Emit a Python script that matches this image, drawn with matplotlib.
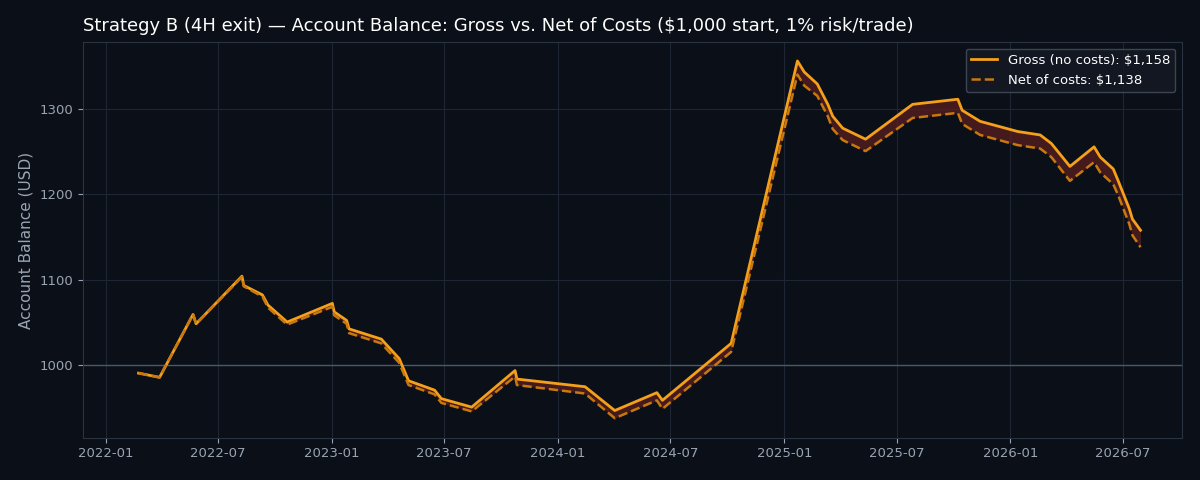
import matplotlib
matplotlib.use("Agg")
import matplotlib.pyplot as plt
import matplotlib.dates as mdates
import pandas as pd

dates = ["2022-02-23","2022-03-29","2022-05-22","2022-05-27","2022-08-09","2022-08-12","2022-09-11","2022-09-20","2022-10-21",
 "2023-01-02","2023-01-05","2023-01-25","2023-01-29","2023-03-22","2023-04-20","2023-05-05","2023-06-16","2023-06-27","2023-08-15",
 "2023-10-24","2023-10-27","2024-02-14","2024-04-02","2024-06-09","2024-06-18","2024-10-07","2025-01-22","2025-02-02","2025-02-23",
 "2025-03-12","2025-03-20","2025-04-05","2025-05-12","2025-07-27","2025-10-08","2025-10-15","2025-11-13","2026-01-13","2026-02-18",
 "2026-03-08","2026-04-07","2026-05-16","2026-05-26","2026-06-16","2026-06-24","2026-07-12","2026-07-17","2026-07-30"]
gross = [990,985,1059,1048,1104,1093,1082,1070,1050,1072,1062,1052,1042,1030,1007,981,970,960,950,993,983,974,946,967,958,1025,
 1357,1344,1330,1306,1292,1278,1265,1306,1312,1299,1286,1274,1270,1260,1233,1256,1244,1230,1216,1183,1171,1158]
net = [990,985,1059,1048,1103,1092,1080,1067,1047,1068,1058,1048,1037,1025,1002,976,965,955,945,986,976,966,937,958,948,1015,
 1341,1328,1316,1292,1277,1264,1251,1290,1296,1283,1270,1258,1254,1244,1216,1238,1226,1212,1199,1165,1152,1138]

x = pd.to_datetime(dates)
bg = "#0b0f17"
fig, ax = plt.subplots(figsize=(12, 4.8), dpi=100)
fig.patch.set_facecolor(bg)
ax.set_facecolor(bg)
fig.subplots_adjust(left=0.069, right=0.985, top=0.912, bottom=0.088)

ax.fill_between(x, net, gross, color="#5a1f1f", alpha=0.75, linewidth=0)
ax.axhline(1000, color="#4a5a6a", linewidth=1)
ax.plot(x, gross, color="#f5a01a", linewidth=2, label="Gross (no costs): $1,158")
ax.plot(x, net, color="#c8780e", linewidth=1.8, linestyle="--", label="Net of costs: $1,138")

ax.set_xlim(pd.Timestamp("2021-11-25"), pd.Timestamp("2026-10-05"))
ax.set_ylim(914, 1379)
ax.set_yticks([1000, 1100, 1200, 1300])
ax.xaxis.set_major_locator(mdates.MonthLocator(bymonth=[1, 7]))
ax.xaxis.set_major_formatter(mdates.DateFormatter("%Y-%m"))
ax.grid(True, color="#1e2633", linewidth=0.8)
ax.set_axisbelow(True)
for s in ax.spines.values():
    s.set_color("#2a3340")
ax.tick_params(colors="#9aa4b2", labelsize=9.5)
ax.set_ylabel("Account Balance (USD)", color="#9aa4b2", fontsize=11)
ax.set_title("Strategy B (4H exit) — Account Balance: Gross vs. Net of Costs ($1,000 start, 1% risk/trade)",
             color="white", fontsize=13, loc="left", pad=8)
leg = ax.legend(loc="upper right", facecolor="#141a24", edgecolor="#4a5260", labelcolor="white", fontsize=9.5)
fig.savefig("out.png", facecolor=bg)
